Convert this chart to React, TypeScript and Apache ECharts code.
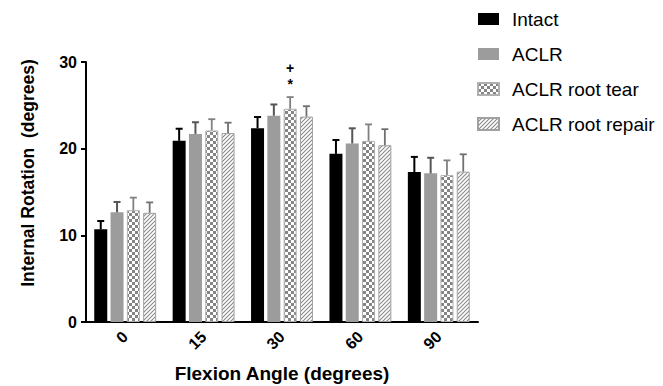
import React, { useEffect, useRef } from "react";
import * as echarts from "echarts";

const categories = ["0", "15", "30", "60", "90"];
const seriesNames = ["Intact", "ACLR", "ACLR root tear", "ACLR root repair"];
const intact = [10.7, 20.9, 22.35, 19.4, 17.3];
const intactErr = [0.95, 1.4, 1.3, 1.6, 1.75];
const aclr = [12.65, 21.7, 23.8, 20.6, 17.15];
const aclrErr = [1.2, 1.35, 1.3, 1.75, 1.8];
const rootTear = [12.9, 22.1, 24.6, 20.9, 16.95];
const rootTearErr = [1.45, 1.3, 1.35, 1.9, 1.7];
const rootRepair = [12.6, 21.8, 23.7, 20.4, 17.35];
const rootRepairErr = [1.2, 1.2, 1.2, 1.85, 2.0];
const rootTearMarks = ["", "", "+\n*", "", ""];
const yMin = 0;
const yMax = 30;
const yStep = 10;
const xTitle = "Flexion Angle (degrees)";
const yTitle = "Internal Rotation  (degrees)";

const FONT = '"Liberation Sans", Arial, Helvetica, sans-serif';
const BAR_W = 13;
const BAR_GAP = 3.3;
const CAP = 3.5;

function makeChecker(): HTMLCanvasElement {
  const c = document.createElement("canvas");
  c.width = 6;
  c.height = 6;
  const g = c.getContext("2d")!;
  g.fillStyle = "#ffffff";
  g.fillRect(0, 0, 6, 6);
  g.fillStyle = "#858585";
  g.fillRect(0, 0, 3, 3);
  g.fillRect(3, 3, 3, 3);
  return c;
}

function makeHatch(): HTMLCanvasElement {
  const s = 4;
  const c = document.createElement("canvas");
  c.width = s;
  c.height = s;
  const g = c.getContext("2d")!;
  g.fillStyle = "#ffffff";
  g.fillRect(0, 0, s, s);
  g.strokeStyle = "#8a8a8a";
  g.lineWidth = 1.1;
  g.beginPath();
  g.moveTo(-1, s + 1);
  g.lineTo(s + 1, -1);
  g.moveTo(-1, 1);
  g.lineTo(1, -1);
  g.moveTo(s - 1, s + 1);
  g.lineTo(s + 1, s - 1);
  g.stroke();
  return c;
}

function errSeries(
  k: number,
  vals: number[],
  errs: number[],
  color: string,
  lw: number,
  marks?: string[]
) {
  return {
    type: "custom",
    silent: true,
    z: 5,
    data: vals.map((v, i) => [i, v, errs[i]]),
    encode: { x: 0, y: 1 },
    renderItem: (params: any, api: any) => {
      const i = api.value(0);
      const v = api.value(1);
      const e = api.value(2);
      const base = api.coord([i, v]);
      const top = api.coord([i, v + e]);
      const x = base[0] + (k - 1.5) * (BAR_W + BAR_GAP);
      const children: any[] = [
        {
          type: "line",
          shape: { x1: x, y1: base[1], x2: x, y2: top[1] },
          style: { stroke: color, lineWidth: lw },
        },
        {
          type: "line",
          shape: { x1: x - CAP, y1: top[1], x2: x + CAP, y2: top[1] },
          style: { stroke: color, lineWidth: lw },
        },
      ];
      const mark = marks ? marks[params.dataIndex] : "";
      if (mark) {
        children.push({
          type: "text",
          x: x,
          y: top[1] - 5,
          style: {
            text: mark,
            textAlign: "center",
            textVerticalAlign: "bottom",
            font: `bold 14px ${FONT}`,
            lineHeight: 16,
            fill: "#000",
          },
        });
      }
      return { type: "group", children };
    },
  };
}

export default function App() {
  const ref = useRef<HTMLDivElement>(null);

  useEffect(() => {
    if (!ref.current) return;
    const chart = echarts.init(ref.current, undefined, { renderer: "svg" });
    const checker = makeChecker();
    const hatch = makeHatch();

    const barBase = {
      type: "bar",
      barWidth: BAR_W,
      barGap: `${(BAR_GAP / BAR_W) * 100}%`,
      z: 2,
    };

    chart.setOption({
      animation: false,
      backgroundColor: "#ffffff",
      textStyle: { fontFamily: FONT },
      grid: {
        left: 86,
        right: 185,
        top: 62,
        bottom: 64,
        containLabel: false,
        outerBoundsMode: "none",
      },
      legend: {
        orient: "vertical",
        left: 472,
        top: 4,
        itemWidth: 21,
        itemHeight: 12,
        itemGap: 15,
        selectedMode: false,
        icon: "rect",
        data: seriesNames,
        textStyle: {
          fontFamily: FONT,
          fontSize: 19,
          color: "#000",
          lineHeight: 20,
          padding: [0, 0, 0, 8],
        },
      },
      xAxis: {
        type: "category",
        data: categories,
        name: xTitle,
        nameLocation: "middle",
        nameGap: 42,
        nameMoveOverlap: false,
        nameTextStyle: {
          fontFamily: FONT,
          fontWeight: "bold",
          fontSize: 19,
          color: "#000",
        },
        axisLine: { lineStyle: { color: "#000", width: 2 } },
        axisTick: {
          alignWithLabel: true,
          length: 5,
          lineStyle: { color: "#000", width: 2 },
        },
        axisLabel: {
          rotate: 45,
          margin: 12,
          fontFamily: FONT,
          fontWeight: "bold",
          fontSize: 16,
          color: "#000",
        },
        splitLine: { show: false },
      },
      yAxis: {
        type: "value",
        min: yMin,
        max: yMax,
        interval: yStep,
        axisLine: { show: true, lineStyle: { color: "#000", width: 2 } },
        axisTick: {
          show: true,
          length: 5,
          lineStyle: { color: "#000", width: 2 },
        },
        axisLabel: {
          margin: 9,
          fontFamily: FONT,
          fontWeight: "bold",
          fontSize: 16,
          color: "#000",
        },
        splitLine: { show: false },
      },
      graphic: [
        {
          type: "text",
          x: 28,
          y: 173,
          rotation: Math.PI / 2,
          style: {
            text: yTitle,
            font: `bold 17.5px ${FONT}`,
            textAlign: "center",
            textVerticalAlign: "middle",
            fill: "#000",
          },
        },
      ],
      series: [
        {
          ...barBase,
          name: seriesNames[0],
          data: intact,
          itemStyle: { color: "#000000", borderColor: "#000000", borderWidth: 0 },
        },
        {
          ...barBase,
          name: seriesNames[1],
          data: aclr,
          itemStyle: { color: "#9c9c9c", borderColor: "#a8a8a8", borderWidth: 0 },
        },
        {
          ...barBase,
          name: seriesNames[2],
          data: rootTear,
          itemStyle: {
            color: { image: checker, repeat: "repeat" },
            borderColor: "#b0b0b0",
            borderWidth: 1,
          },
        },
        {
          ...barBase,
          name: seriesNames[3],
          data: rootRepair,
          itemStyle: {
            color: { image: hatch, repeat: "repeat" },
            borderColor: "#a0a0a0",
            borderWidth: 1,
          },
        },
        errSeries(0, intact, intactErr, "#000000", 2),
        errSeries(1, aclr, aclrErr, "#555555", 2),
        errSeries(2, rootTear, rootTearErr, "#808080", 1.8, rootTearMarks),
        errSeries(3, rootRepair, rootRepairErr, "#707070", 1.8),
      ],
    });

    return () => chart.dispose();
  }, []);

  return (
    <div
      ref={ref}
      style={{ position: "fixed", left: 0, top: 0, width: 663, height: 386 }}
    />
  );
}
